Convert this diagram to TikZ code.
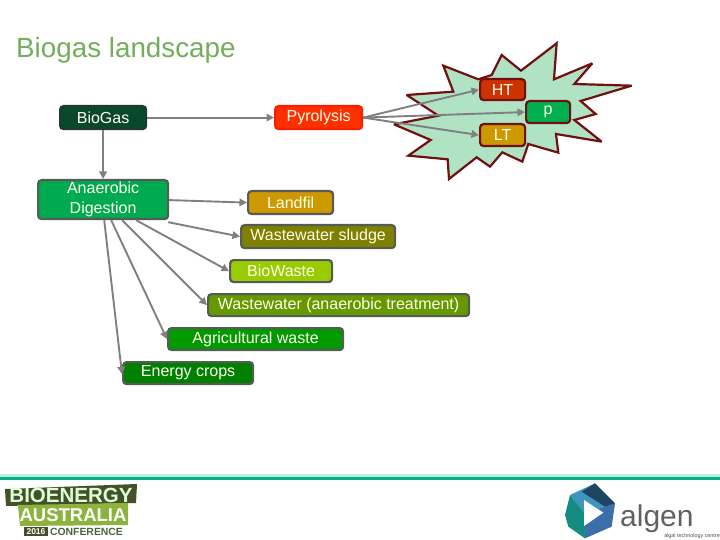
\documentclass[tikz,border=0pt]{standalone}
\usepackage{fontspec}
\setmainfont{Liberation Sans}
\usetikzlibrary{arrows.meta}
\definecolor{gr}{HTML}{808080}
\definecolor{titlec}{HTML}{72AE5C}
\definecolor{bd}{HTML}{555B55}
\definecolor{dr}{HTML}{701010}
\definecolor{starf}{HTML}{B0E2C4}
\definecolor{biob}{HTML}{1E3A2E}
\definecolor{biof}{HTML}{0A482C}
\definecolor{pyrb}{HTML}{FA1E00}
\definecolor{pyrf}{HTML}{FF3000}
\definecolor{adf}{HTML}{00AA50}
\definecolor{goldf}{HTML}{CC9900}
\definecolor{olivef}{HTML}{7F7F00}
\definecolor{limef}{HTML}{99CC00}
\definecolor{wwf}{HTML}{669900}
\definecolor{agrif}{HTML}{009900}
\definecolor{cropf}{HTML}{008000}
\definecolor{htf}{HTML}{CC3300}
\definecolor{pf}{HTML}{00B050}
\definecolor{rulea}{HTML}{BEEBE1}
\definecolor{ruleb}{HTML}{00B082}
\definecolor{logod}{HTML}{465028}
\definecolor{logog}{HTML}{8CB43C}
\definecolor{logot}{HTML}{50643C}
\definecolor{alga}{HTML}{3C96BE}
\definecolor{algb}{HTML}{148C82}
\definecolor{algc}{HTML}{3C6EAA}
\definecolor{algd}{HTML}{1E4664}
\tikzset{
 box/.style={draw=#1,line width=2.2pt,rounded corners=3.5pt,text=white!92!yellow,anchor=north west,inner sep=0pt,align=center,font=\fontsize{16}{20}\selectfont},
 conn/.style={draw=gr,line width=1.9pt,-{Triangle[length=7.5pt,width=7.5pt]}}
}
\begin{document}
\begin{tikzpicture}[x=1pt,y=-1pt]
\useasboundingbox (0,0) rectangle (720,540);
\node[anchor=base west,inner sep=0pt,text=titlec,font=\fontsize{27.8}{30}\selectfont] (title) at (16,58) {Biogas landscape};
% star
\begin{scope}[shift={(340,30)},x=0.3333pt,y=-0.3333pt]
\draw[draw=dr,fill=starf,line width=2.2pt,line join=miter,miter limit=3]
 (200,195)--(340,185)--(310,107)--(415,148)--(455,135)--(485,75)--(543,122)--(650,40)--(642,148)--(757,100)--(703,162)--(875,167)--(722,213)--(767,252)--(703,270)--(785,335)--(648,312)--(655,368)--(565,342)--(547,395)--(487,367)--(450,410)--(410,382)--(327,447)--(323,388)--(205,377)--(272,330)--(162,283)--(295,257)--cycle;
\end{scope}
\node[box=biob,fill=biof,minimum width=86pt,minimum height=23pt] (bio) at (59,105) {BioGas};
\node[box=pyrb,fill=pyrf,minimum width=87pt,minimum height=23pt] (pyr) at (274,105) {Pyrolysis};
\node[box=bd,fill=adf,minimum width=130pt,minimum height=39pt] (ad) at (37,179) {Anaerobic\\Digestion};
\node[box=bd,fill=goldf,minimum width=85pt,minimum height=23pt] (land) at (247,190) {Landfil};
\node[box=bd,fill=olivef,minimum width=154pt,minimum height=23pt] (sludge) at (240,224) {Wastewater sludge};
\node[box=bd,fill=limef,minimum width=102pt,minimum height=22pt] (waste) at (229,259) {BioWaste};
\node[box=bd,fill=wwf,minimum width=261pt,minimum height=22pt] (ww) at (207,293) {Wastewater (anaerobic treatment)};
\node[box=bd,fill=agrif,minimum width=175pt,minimum height=22pt] (agri) at (167,327) {Agricultural waste};
\node[box=bd,fill=cropf,minimum width=130pt,minimum height=22pt] (crops) at (122,361) {Energy crops};
\node[box=dr,fill=htf,minimum width=45pt,minimum height=21pt] (ht) at (479,78) {HT};
\node[box=dr,fill=pf,minimum width=44pt,minimum height=22pt] (p) at (525,100) {p};
\node[box=dr,fill=goldf,minimum width=45pt,minimum height=22pt] (lt) at (479,123) {LT};
% connectors
\draw[conn] (bio.east) -- (pyr.west);
\draw[conn] (bio.south) -- (ad.north);
\draw[conn] (pyr.east) -- (ht.west);
\draw[conn] (pyr.east) -- (p.west);
\draw[conn] (pyr.east) -- (lt.west);
\draw[conn] ([yshift=-0.5pt]ad.east) -- (land.west);
\draw[conn] ([xshift=-1pt,yshift=-2pt]ad.south east) -- (sludge.west);
\draw[conn] ([xshift=-33pt]ad.south east) -- (waste.west);
\draw[conn] ([xshift=-47pt]ad.south east) -- (ww.west);
\draw[conn] ([xshift=-58pt]ad.south east) -- (agri.west);
\draw[conn] ([xshift=-65pt]ad.south east) -- ([yshift=-1pt]crops.west);
% rule
\fill[rulea] (0,474) rectangle (720,477);
\fill[ruleb] (0,477) rectangle (720,480);
% Bioenergy logo
\fill[logod] (5,489)--(137,484)--(136,503)--(6,506)--cycle;
\node[inner sep=0pt,text=white!85!green,font=\fontsize{20.5}{22}\bfseries\selectfont] (bt) at (71,495) {BIOENERGY};
\fill[logog] (18,505)--(128,503)--(128,525)--(20,526)--cycle;
\node[inner sep=0pt,text=white,font=\fontsize{18.5}{20}\bfseries\selectfont] (at) at (73,515) {AUSTRALIA};
\fill[logod] (24,527) rectangle (48,536);
\node[inner sep=0pt,text=white,font=\fontsize{8.5}{9}\bfseries\selectfont] (yr) at (36,531.5) {2016};
\node[inner sep=0pt,text=logot,font=\fontsize{10.4}{11}\bfseries\selectfont] (cf) at (86.5,531.5) {CONFERENCE};
% Algen logo
\begin{scope}[shift={(550,470)},x=0.3333pt,y=-0.3333pt]
\fill[alga] (60,75)--(135,40)--(195,100)--(105,130)--cycle;
\fill[algb] (60,75)--(45,135)--(55,170)--(105,205)--(105,130)--cycle;
\fill[algc] (195,100)--(185,170)--(105,205)--(105,130)--cycle;
\fill[algd] (135,40)--(195,100)--(165,110)--(95,65)--cycle;
\fill[white] (102,90)--(160,128)--(102,168)--cycle;
\end{scope}
\node[anchor=base west,inner sep=0pt,text=black!62,font=\fontsize{30}{32}\selectfont] (alg) at (620,526) {algen};
\node[anchor=base east,inner sep=0pt,text=black!70,font=\fontsize{5.4}{6}\selectfont] (algs) at (720,537) {algal technology centre};
\end{tikzpicture}
\end{document}
